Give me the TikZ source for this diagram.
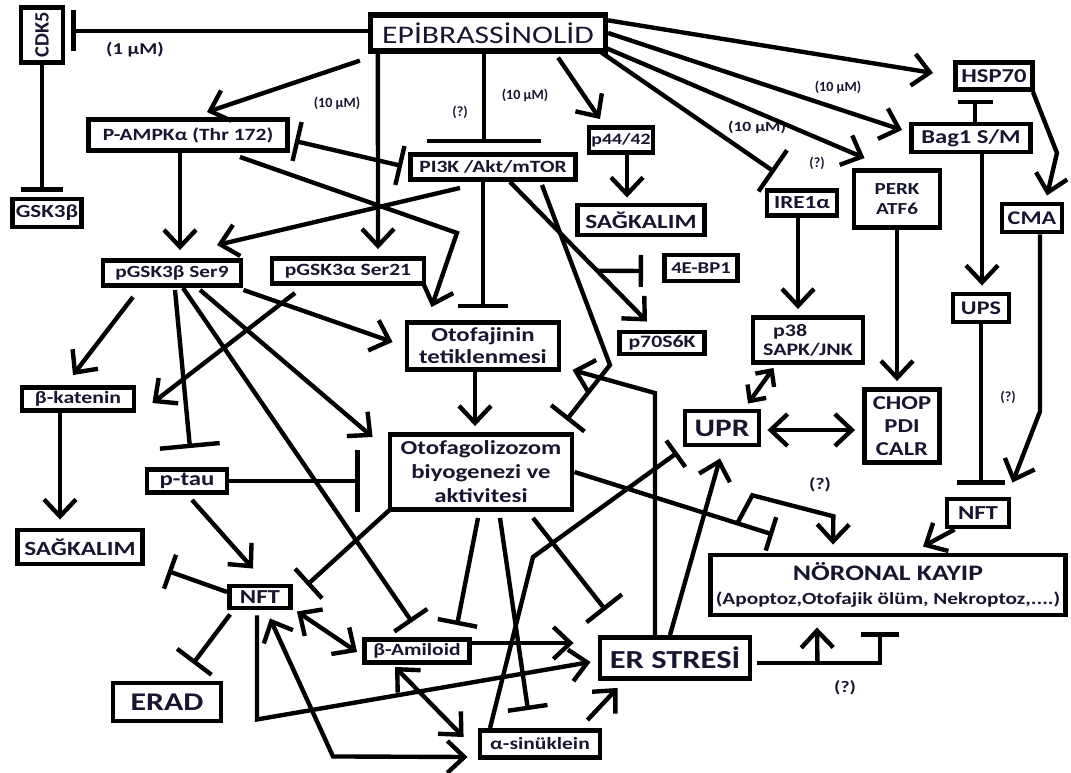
\documentclass[tikz,border=0pt]{standalone}
\usepackage{fontspec}
\setmainfont{Carlito}[FakeStretch=1.25]
\newfontfamily\narrowfont{Carlito}
\usetikzlibrary{arrows.meta, calc}
\definecolor{ink}{RGB}{22,22,48}
\newcommand\fsz[2]{\bfseries\fontsize{#1}{#2}\selectfont}
\tikzset{box/.style = {draw, line width=2.8pt, inner sep=0pt, align=center, text=ink},
act/.style = {line width=2.5pt, -{Straight Barb[length=3.4mm, width=6.4mm]}},
dual/.style = {line width=2.5pt, {Straight Barb[length=3.4mm, width=6.4mm]}-{Straight Barb[length=3.4mm, width=6.4mm]}},
inh/.style = {line width=2.5pt, -{Bar[width=#1]}}, inh/.default = 8mm,
mutual/.style = {line width=2.5pt, {Bar[width=8mm]}-{Bar[width=8mm]}},
dose/.style = {text=ink, inner sep=0pt, font=\narrowfont\bfseries\fontsize{8}{9}\selectfont}}

\begin{document}
\begin{tikzpicture}[x=0.02cm, y=-0.02cm]
\useasboundingbox (0,0) rectangle (1071,773);
\node[box, minimum width=0.84cm, minimum height=1.1cm, font=\narrowfont\fsz{11.6}{13}] (cdk) at (42,35) {\rotatebox{90}{CDK5}};
\node[box, minimum width=1.38cm, minimum height=0.56cm, font=\fsz{10.5}{12}] (gsk) at (47,213) {GSK3β};
\node[box, line width=3pt, minimum width=4.7cm, minimum height=0.72cm, font=\fontsize{14.4}{16}\selectfont] (epi) at (488,33) {EPİBRASSİNOLİD};
\node[box, minimum width=3.98cm, minimum height=0.62cm, font=\fsz{9.8}{12}] (ampk) at (188,135) {P-AMPKα (Thr 172)};
\node[box, minimum width=3.3cm, minimum height=0.5cm, font=\fsz{9.8}{12}] (pi3k) at (493,167) {PI3K /Akt/mTOR};
\node[box, minimum width=1.28cm, minimum height=0.5cm, font=\fsz{9}{12}] (p44) at (621,140) {p44/42};
\node[box, minimum width=2.54cm, minimum height=0.6cm, font=\fsz{11.5}{13}] (sagt) at (641,220) {SAĞKALIM};
\node[box, minimum width=1.54cm, minimum height=0.54cm, font=\fsz{11.2}{13}] (hsp) at (994,76) {HSP70};
\node[box, minimum width=2.38cm, minimum height=0.56cm, font=\fsz{11.2}{13}] (bag) at (971,138) {Bag1 S/M};
\node[box, minimum width=1.4cm, minimum height=0.5cm, font=\fsz{10.5}{12}] (ire) at (802,203) {IRE1α};
\node[box, minimum width=1.72cm, minimum height=1.14cm, font=\fsz{9.6}{11.4}] (perk) at (897,199) {PERK\\ATF6};
\node[box, minimum width=1.2cm, minimum height=0.56cm, font=\fsz{11}{13}] (cma) at (1032,218) {CMA};
\node[box, minimum width=1.12cm, minimum height=0.56cm, font=\fsz{11}{13}] (ups) at (981,308) {UPS};
\node[box, minimum width=1.5cm, minimum height=1.46cm, font=\fsz{11.2}{13}] (chop) at (902,426) {CHOP\\PDI\\CALR};
\node[box, minimum width=2.2cm, minimum height=0.9cm, font=\fsz{10}{11}, align=left] (p38) at (808,340) {\hspace{0.2cm}p38\\SAPK/JNK};
\node[box, minimum width=1.48cm, minimum height=0.68cm, font=\fsz{14.3}{16}] (upr) at (722,428) {UPR};
\node[box, minimum width=1.24cm, minimum height=0.56cm, font=\fsz{11.3}{13}] (nftr) at (978,513) {NFT};
\node[box, minimum width=7.1cm, minimum height=1.2cm, font=\fsz{12.6}{14}] (noron) at (888,585) {NÖRONAL KAYIP\\{\fsz{9.7}{11}(Apoptoz,Otofajik ölüm, Nekroptoz,....)}};
\node[box, minimum width=3.04cm, minimum height=0.94cm, font=\fsz{11.3}{12.5}] (otf) at (483,346) {Otofajinin\\tetiklenmesi};
\node[box, minimum width=3.64cm, minimum height=1.5cm, font=\fsz{11.3}{13.7}] (oto) at (481,472) {Otofagolizozom\\biyogenezi ve\\aktivitesi};
\node[box, minimum width=2.76cm, minimum height=0.5cm, font=\fsz{9.7}{12}] (pgskb) at (172,273) {pGSK3β Ser9};
\node[box, minimum width=3.04cm, minimum height=0.5cm, font=\fsz{9.8}{12}] (pgska) at (348,271) {pGSK3α Ser21};
\node[box, minimum width=1.46cm, minimum height=0.52cm, font=\fsz{9.4}{12}] (ebp) at (701,268) {4E-BP1};
\node[box, minimum width=1.7cm, minimum height=0.44cm, font=\fsz{9.9}{12}] (p70) at (662,343) {p70S6K};
\node[box, minimum width=2.24cm, minimum height=0.46cm, font=\fsz{9.9}{12}] (kat) at (78,399) {β-katenin};
\node[box, minimum width=1.6cm, minimum height=0.46cm, font=\fsz{11.3}{13}] (tau) at (187,481) {p-tau};
\node[box, minimum width=2.5cm, minimum height=0.68cm, font=\fsz{11.5}{13}] (sagl) at (80,547) {SAĞKALIM};
\node[box, minimum width=1.22cm, minimum height=0.44cm, font=\fsz{11.3}{13}] (nftl) at (260,597) {NFT};
\node[box, minimum width=2.16cm, minimum height=0.76cm, font=\fsz{14.5}{16}] (erad) at (167,702) {ERAD};
\node[box, minimum width=2.1cm, minimum height=0.46cm, font=\fsz{9.8}{12}] (amy) at (417,651) {β-Amiloid};
\node[box, minimum width=2.4cm, minimum height=0.54cm, font=\fsz{9.8}{12}] (syn) at (540,744) {α-sinüklein};
\node[box, minimum width=3.0cm, minimum height=0.82cm, font=\fsz{14.8}{16}] (er) at (675,658) {ER STRESİ};
\node[dose, font=\fsz{9.4}{11}] (d1) at (135,50) {(1 μM)};
\node[dose] (d2) at (337,103) {(10 μM)};
\node[dose] (d3) at (525,95) {(10 μM)};
\node[dose] (q1) at (460,112) {(?)};
\node[dose] (d4) at (838,87) {(10 μM)};
\node[dose, font=\fsz{8}{9}] (d5) at (757,127) {(10 μM)};
\node[dose] (q2) at (817,163) {(?)};
\node[dose] (q3) at (1008,397) {(?)};
\node[dose, font=\fsz{9.2}{11}] (q4) at (820,485) {(?)};
\node[dose, font=\fsz{9.2}{11}] (q5) at (845,688) {(?)};
\draw[inh=8.2mm] ($(epi.west)+(0,-2)$) -- ($(cdk.east)+(6,-4)$);
\draw[inh=8.4mm] (cdk.south) -- ($(gsk.north)+(-5,-5)$);
\draw[act] ($(epi.south west)+(-8,7)$) -- ($(ampk.north)+(19,-5)$);
\draw[mutual] ($(ampk.east)+(5,6)$) -- ($(pi3k.west)+(-6,-1)$);
\draw[inh=2.3cm] ($(epi.south)+(-4,0)$) -- ($(pi3k.north)+(-9,-9)$);
\draw[act] ($(epi.south east)+(-50,4)$) -- ($(p44.north)+(-21,-6)$);
\draw[act] ($(p44.south)+(6,0)$) -- ($(p44.south |- sagt.north)+(6,-5)$);
\draw[act] ($(epi.north east)+(0,8)$) -- ($(hsp.west)+(-20,-3)$);
\draw[act] (epi.east) -- ($(bag.west)+(-7,-8)$);
\draw[act] ($(epi.south east)+(-3,-6)$) -- ($(perk.north west)+(13,-10)$);
\draw[inh=1cm] ($(epi.south east)+(-8,-2)$) -- ($(ire.north west)+(10,-16)$);
\draw[inh=0.7cm] ($(bag.north)+(4,0)$) -- ($(hsp.south)+(-19,8)$);
\draw[act] ($(hsp.south east)+(-2,0)$) -- ++(24,61) -- ($(cma.north)+(15,-6)$);
\draw[act] ($(bag.south)+(11,0)$) -- ($(ups.north)+(1,-6)$);
\draw[act] ($(ire.south)+(-4,0)$) -- ($(ire.south |- p38.north)+(-4,-6)$);
\draw[act] (perk.south) -- ($(perk.south |- chop.north)+(0,-6)$);
\draw[line width=2.5pt, {Straight Barb[length=2.4mm, width=4.6mm]}-{Straight Barb[length=2.4mm, width=4.6mm]}] ($(p38.south west)+(23,3)$) -- ($(upr.north)+(26,-5)$);
\draw[dual] ($(upr.east)+(6,2)$) -- ($(chop.west)+(-7,4)$);
\draw[inh=0.96cm] (ups.south) -- ($(nftr.north)+(3,-12)$);
\draw[act] ($(cma.south)+(8,0)$) -- ++(0,177) -- ($(nftr.north east)+(1,-14)$);
\draw[act] ($(nftr.south west)+(10,0)$) -- ($(noron.north)+(35,-6)$);
\draw[inh=0.75cm] ($(er.east)+(5,5)$) -| ($(noron.south)+(-8,15)$);
\draw[act] ($(er.east)+(65,5)$) -- ($(noron.south)+(-71,10)$);
\draw[inh=0.7cm] (oto.east) -- coordinate[pos=0.82] (br) ($(noron.north west)+(65,-18)$);
\draw[act] (br) -- ++(15,-28) -- ++(81,21) -- ($(noron.north)+(-55,-8)$);
\draw[act] ($(pi3k.south)+(-33,6)$) -- ($(pgskb.north)+(45,-13)$);
\draw[act] ($(ampk.south)+(-8,0)$) -- ($(pgskb.north)+(8,-8)$);
\draw[act] ($(ampk.south east)+(-50,4)$) -- ++(217,76) -- ($(otf.north west)+(27,-13)$);
\draw[act] ($(epi.south west)+(10,0)$) -- ($(pgska.north)+(30,-7)$);
\draw[inh=1cm] ($(pi3k.south)+(-10,0)$) -- ($(otf.north)+(0,-12)$);
\draw[act] ($(pi3k.south)+(17,0)$) -- coordinate[pos=0.636] (br2) ($(p70.north)+(-15,-8)$);
\draw[inh=0.64cm] (br2) -- ($(ebp.west)+(-19,3)$);
\draw[inh=0.85cm] ($(pi3k.south east)+(-36,3)$) -- ++(68,180) -- ($(oto.north east)+(-8,-12)$);
\draw[act] ($(er.north)+(-20,0)$) -- ++(0,-242) -- ($(otf.east)+(11,24)$);
\draw[act] ($(otf.south)+(-8,0)$) -- ($(oto.north)+(-6,-6)$);
\draw[act] ($(pgskb.south)+(-39,9)$) -- ($(kat.north)+(-5,-10)$);
\draw[act] ($(pgska.south)+(-53,7)$) -- ($(kat.east)+(16,4)$);
\draw[inh=1.2cm] ($(pgskb.south)+(3,2)$) -- ($(tau.north)+(3,-19)$);
\draw[inh=0.8cm] ($(pgskb.south)+(11,0)$) -- ($(amy.north west)+(50,-15)$);
\draw[act] ($(pgskb.south)+(28,2)$) -- ($(oto.west)+(-15,-35)$);
\draw[act] ($(pgskb.south east)+(0,2)$) -- ($(otf.west)+(-12,-4)$);
\draw[act] ($(kat.south)+(-18,0)$) -- ($(sagl.north)+(-20,-8)$);
\draw[inh=1.24cm] (tau.east) -- ($(oto.west)+(-28,9)$);
\draw[act] ($(tau.south)+(5,5)$) -- ($(nftl.north)+(-7,-15)$);
\draw[inh=0.72cm] ($(nftl.west)+(0,-5)$) -- ($(sagl.east)+(23,24)$);
\draw[inh=0.86cm] ($(nftl.south west)+(3,4)$) -- ($(erad.north)+(26,-17)$);
\draw[dual] ($(nftl.south east)+(4,1)$) -- ($(amy.west)+(-5,1)$);
\draw[act] ($(nftl.south)+(-3,5)$) -- ++(0,104) -- ($(er.west)+(-7,4)$);
\draw[dual] ($(nftl.south)+(10,8)$) -- ++(63,138) -- ($(syn.west)+(-10,13)$);
\draw[act] ($(amy.east)+(0,-8)$) -- ($(er.west)+(-24,-15)$);
\draw[dual] ($(amy.south)+(-22,2)$) -- ($(syn.west)+(-14,-7)$);
\draw[act] ($(syn.north east)+(-15,-8)$) -- ($(er.south west)+(20,7)$);
\draw[inh=0.65cm] ($(syn.north)+(-50,0)$) -- ++(43,-171) -- ($(upr.south west)+(-5,5)$);
\draw[act] ($(er.north)+(-5,0)$) -- ($(upr.south)+(-2,11)$);
\draw[inh=0.8cm] ($(oto.south west)+(2,-2)$) -- ($(nftl.east)+(14,-12)$);
\draw[inh=0.8cm] ($(oto.south)+(-3,6)$) -- ($(amy.north west)+(95,-12)$);
\draw[inh=0.8cm] ($(oto.south)+(19,6)$) -- ($(syn.north)+(-12,-18)$);
\draw[inh=0.9cm] ($(oto.south)+(52,6)$) -- ($(er.north west)+(8,-25)$);
\end{tikzpicture}
\end{document}
